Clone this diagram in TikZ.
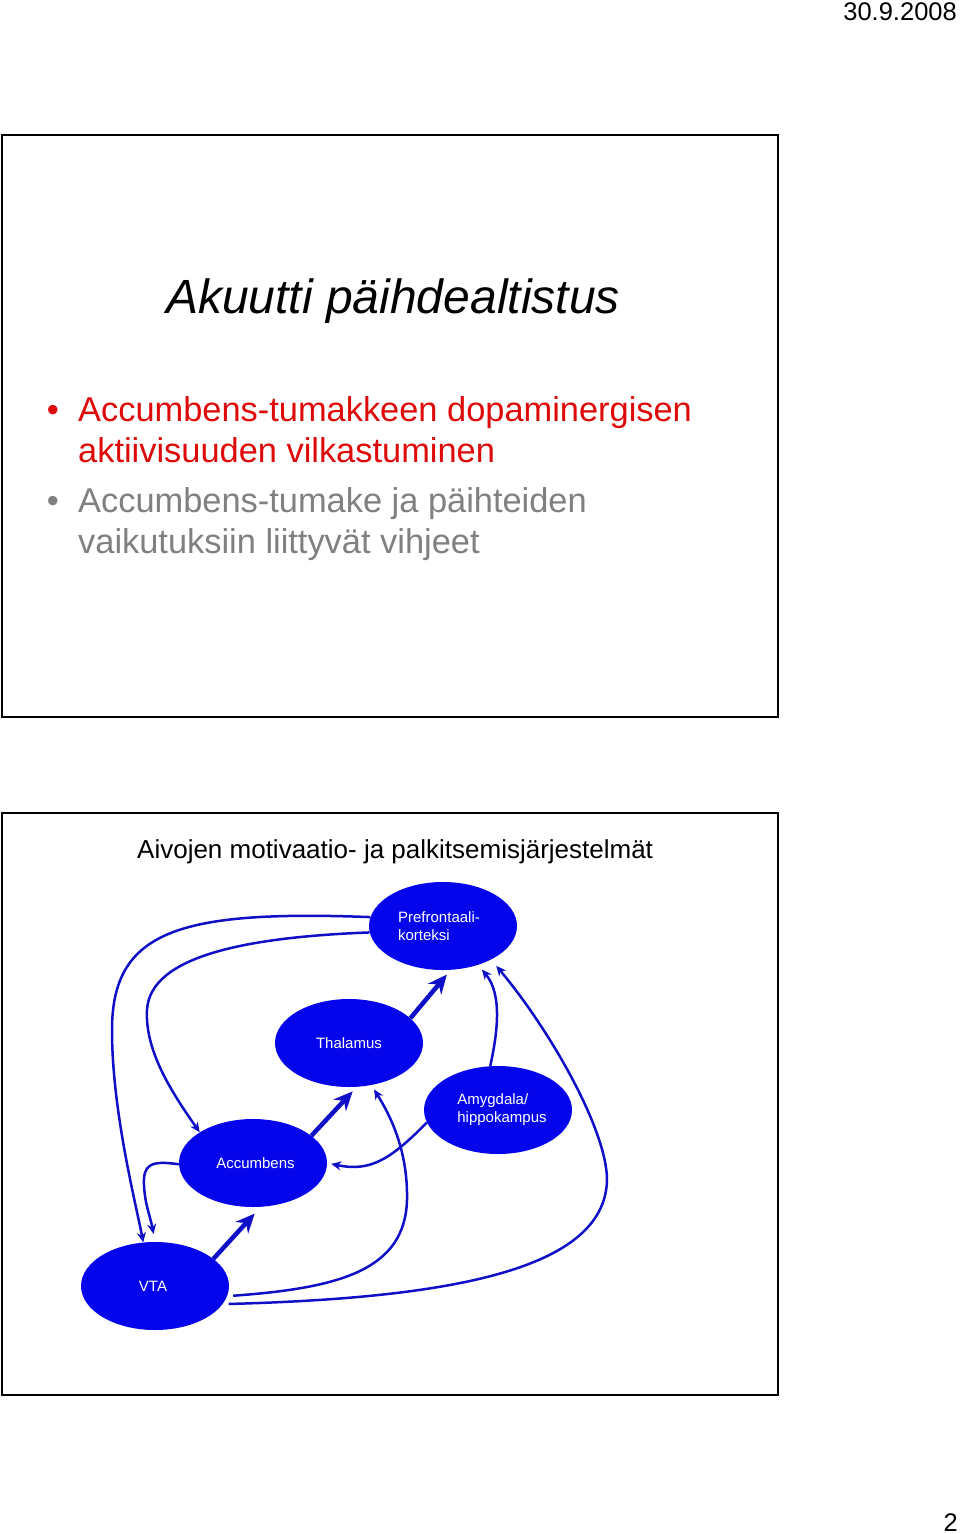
\documentclass[tikz,border=0pt]{standalone}
\usepackage{fontspec}
\setmainfont{Liberation Sans}
\usetikzlibrary{shapes.geometric,arrows.meta}
\definecolor{ellblue}{RGB}{5,5,235}
\definecolor{linblue}{RGB}{15,15,200}
\definecolor{bred}{RGB}{222,10,10}
\definecolor{bgray}{RGB}{128,128,128}
\begin{document}
\begin{tikzpicture}[x=1pt,y=-1pt,
  region/.style={ellipse, fill=ellblue, minimum width=148pt, minimum height=88pt, inner sep=0pt, text=white, font=\fontsize{15}{18}\selectfont, align=left},
  link/.style={draw=linblue, line width=2.5pt, -{Stealth[length=10pt,width=9pt]}},
  bigarrow/.style={draw=linblue, line width=4.5pt, -{Stealth[length=19pt,width=17pt]}},
  frame/.style={draw=black, line width=2.5pt},
  bullettext/.style={anchor=base west, inner sep=0pt, font=\fontsize{34.4}{41}\selectfont},
  bulletdot/.style={anchor=base, inner sep=0pt, font=\fontsize{34.4}{41}\selectfont}]
\useasboundingbox (0,0) rectangle (960,1534);
\fill[white] (0,0) rectangle (960,1534);

% header and page number
\node[anchor=base east, inner sep=0pt, font=\fontsize{25.5}{30}\selectfont] (date) at (957,20) {30.9.2008};
\node[anchor=base east, inner sep=0pt, font=\fontsize{25.5}{30}\selectfont] (page) at (958,1531) {2};

% frames
\draw[frame] (2,135) rectangle (778,717);
\draw[frame] (2,813) rectangle (778,1395);

% top slide
\node[anchor=base, inner sep=0pt, font=\fontsize{48}{56}\selectfont\itshape] (title) at (393,313) {Akuutti päihdealtistus};
\node[bulletdot, text=bred] (b1) at (53,421) {•};
\node[bullettext, text=bred] (l1) at (78,421) {Accumbens-tumakkeen dopaminergisen};
\node[bullettext, text=bred] (l2) at (78,462) {aktiivisuuden vilkastuminen};
\node[bulletdot, text=bgray] (b2) at (53,512) {•};
\node[bullettext, text=bgray] (l3) at (78,512) {Accumbens-tumake ja päihteiden};
\node[bullettext, text=bgray] (l4) at (78,553) {vaikutuksiin liittyvät vihjeet};

% bottom slide
\node[anchor=base west, inner sep=0pt, font=\fontsize{26}{31}\selectfont] (dtitle) at (137,858) {Aivojen motivaatio- ja palkitsemisjärjestelmät};

\node[region] (pfc) at (443,926) {Prefrontaali-\hspace*{8pt}\\korteksi};
\node[region] (thal) at (349,1043) {Thalamus};
\node[region] (amy) at (498,1110) {\hspace*{8pt}Amygdala/\\\hspace*{8pt}hippokampus};
\node[region] (acc) at (253,1163) {\hspace*{5pt}Accumbens};
\node[region] (vta) at (155,1286) {VTA\hspace*{4pt}};

% thick arrows
\draw[bigarrow, shorten >=9pt] (vta.25) -- (acc.280);
\draw[bigarrow, shorten >=6pt] (acc.25) -- (thal.280);
\draw[bigarrow, shorten >=6pt] (thal.22) -- (pfc.280);

% thin connectors
\draw[link] (pfc.173) .. controls (180,910) and (112,930) .. (112,1030)
  .. controls (112,1110) and (135,1200) .. (vta.105);
\draw[link] (pfc.185) .. controls (250,937) and (150,955) .. (147,1010)
  .. controls (145,1050) and (170,1090) .. (acc.150);
\draw[link, shorten >=8pt] (acc.181) .. controls (150,1160) and (143,1165) .. (144,1185)
  .. controls (145,1205) and (150,1215) .. (vta.90);
\draw[link, shorten >=4pt] (amy.190) .. controls (390,1160) and (370,1172) .. (acc.east);
\draw[link, shorten <=6pt, shorten >=5pt] (vta.352) .. controls (340,1288) and (405,1270) .. (407,1200)
  .. controls (408,1150) and (390,1115) .. (thal.298);
\draw[link, shorten <=6pt, shorten >=8pt] (vta.345) .. controls (450,1298) and (605,1270) .. (607,1180)
  .. controls (607,1130) and (550,1030) .. (pfc.325);
\draw[link, shorten >=6pt] (amy.100) .. controls (497,1035) and (503,995) .. (pfc.312);
\end{tikzpicture}
\end{document}
